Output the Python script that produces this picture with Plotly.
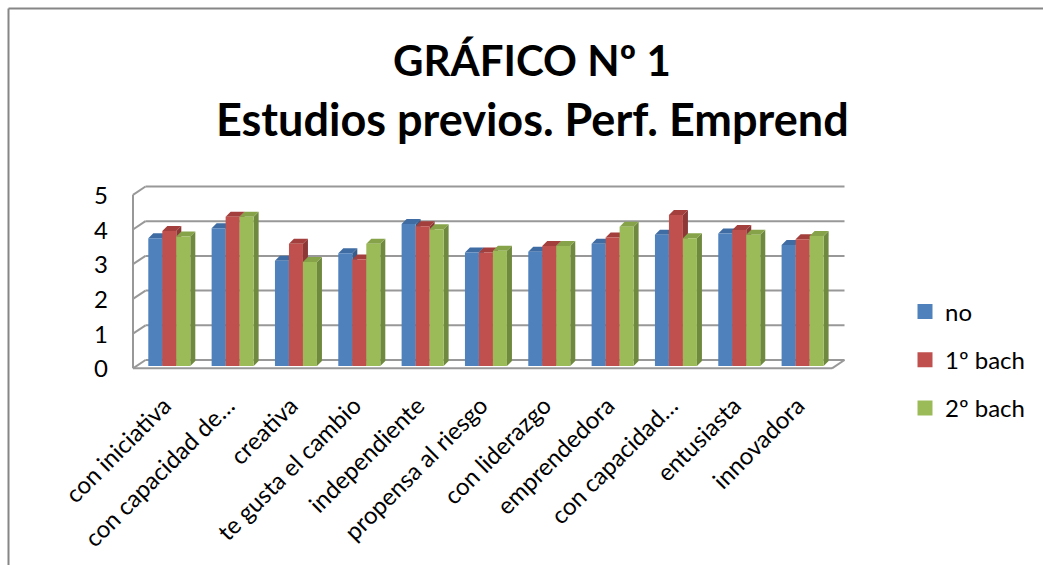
import plotly.graph_objects as go

categories = ["con iniciativa", "con capacidad de…", "creativa", "te gusta el cambio",
              "independiente", "propensa al riesgo", "con liderazgo", "emprendedora",
              "con capacidad…", "entusiasta", "innovadora"]
no = [3.68, 3.97, 3.03, 3.25, 4.09, 3.27, 3.29, 3.52, 3.78, 3.82, 3.49]
bach1 = [3.89, 4.30, 3.52, 3.07, 4.03, 3.27, 3.46, 3.70, 4.35, 3.92, 3.65]
bach2 = [3.73, 4.30, 3.00, 3.52, 3.94, 3.32, 3.46, 4.01, 3.68, 3.78, 3.75]
series_names = ["no", "1º bach", "2º bach"]
series_values = [no, bach1, bach2]
front_colors = ["#4F81BD", "#C0504D", "#9BBB59"]
side_colors = ["#385D8A", "#8C3836", "#6F8A3E"]
top_colors = ["#3F6CA3", "#A33F3C", "#86A34A"]
y_ticks = [0, 1, 2, 3, 4, 5]

FONT = "Lato"
W, H = 1043, 565
L, R, T, B = 118, 860, 175, 375
STEP_X, STEP_Y = 63.33, 34.7
X0_PX, Y0_PX = 169.3, 366.0
xrange_ = [(L - X0_PX) / STEP_X, (R - X0_PX) / STEP_X]
yrange_ = [(Y0_PX - B) / STEP_Y, (Y0_PX - T) / STEP_Y]
bw = 14.0 / STEP_X
dx_bar, dy_bar = 5.0 / STEP_X, 5.0 / STEP_Y
wall_dx, wall_dy = 12.5 / STEP_X, 8.3 / STEP_Y
front_x0 = (133 - X0_PX) / STEP_X
front_x1 = (832 - X0_PX) / STEP_X
front_y0 = (Y0_PX - 368.3) / STEP_Y   # value at the front plane's zero line
GRID = "#989898"

fig = go.Figure()

# legend entries with square swatches
for s, name in enumerate(series_names):
    fig.add_trace(go.Scatter(
        x=[None], y=[None], name=name, mode="markers",
        marker=dict(symbol="square", size=15, color=front_colors[s], line=dict(width=0)),
        legendgroup=name, hoverinfo="skip"))

# depth faces, left to right, in the base subplot
for s, vals in enumerate(series_values):
    for i, v in enumerate(vals):
        x0 = i - 1.5 * bw + s * bw
        x1 = x0 + bw
        fig.add_trace(go.Scatter(
            x=[x1, x1 + dx_bar, x1 + dx_bar, x1, x1], y=[0, dy_bar, v + dy_bar, v, 0],
            mode="lines", fill="toself", fillcolor=side_colors[s], line=dict(width=0),
            showlegend=False, hoverinfo="skip"))
        fig.add_trace(go.Scatter(
            x=[x0, x1, x1 + dx_bar, x0 + dx_bar, x0], y=[v, v, v + dy_bar, v + dy_bar, v],
            mode="lines", fill="toself", fillcolor=top_colors[s], line=dict(width=0),
            showlegend=False, hoverinfo="skip"))

# front faces on an overlaid subplot so they cover the depth faces
for s, vals in enumerate(series_values):
    fig.add_trace(go.Bar(
        x=list(range(len(categories))), y=vals, name=series_names[s], showlegend=False,
        marker=dict(color=front_colors[s], line=dict(width=0)),
        xaxis="x2", yaxis="y2", hoverinfo="skip"))

shapes = []
def seg(x0, y0, x1, y1):
    shapes.append(dict(type="line", xref="x", yref="y", x0=x0, y0=y0, x1=x1, y1=y1,
                       layer="below", line=dict(color=GRID, width=2)))

for t in y_ticks:
    fy = front_y0 + t
    seg(front_x0 + wall_dx, fy + wall_dy, front_x1 + wall_dx, fy + wall_dy)   # back wall
    seg(front_x0, fy, front_x0 + wall_dx, fy + wall_dy)                       # side wall
seg(front_x0, front_y0, front_x0, front_y0 + 5)
seg(front_x0, front_y0, front_x1, front_y0)
seg(front_x1, front_y0, front_x1 + wall_dx, front_y0 + wall_dy)

# chart border
for (x0, y0, x1, y1) in [(8.5, 8.5, W, 8.5), (8.5, 8.5, 8.5, H)]:
    shapes.append(dict(type="line", xref="paper", yref="paper",
                       x0=(x0 - L) / (R - L), x1=(x1 - L) / (R - L),
                       y0=(B - y0) / (B - T), y1=(B - y1) / (B - T),
                       layer="below", line=dict(color="#868686", width=2)))

def title_ann(text, cy, size):
    return dict(text=text, xref="paper", yref="paper", showarrow=False,
                x=(532 - L) / (R - L), y=(B - cy) / (B - T), xanchor="center", yanchor="middle",
                font=dict(family=FONT, size=size, color="#000000", weight="bold"))

fig.update_layout(
    width=W, height=H, autosize=False, showlegend=True,
    margin=dict(l=L, r=W - R, t=T, b=H - B, pad=0),
    paper_bgcolor="#FFFFFF", plot_bgcolor="rgba(0,0,0,0)",
    barmode="group", bargap=1 - 3 * bw, bargroupgap=0,
    shapes=shapes,
    annotations=[title_ann("GRÁFICO Nº 1", 60, 42), title_ann("Estudios previos. Perf. Emprend", 119, 45)],
    font=dict(family=FONT, color="#000000"),
    xaxis=dict(range=xrange_, tickmode="array", tickvals=list(range(len(categories))),
               ticktext=categories, tickangle=-45, showgrid=False, zeroline=False, showline=False,
               ticks="", tickfont=dict(family=FONT, size=24), ticklabelstandoff=11, ticklabelshift=-5),
    yaxis=dict(range=yrange_, tickmode="array", tickvals=y_ticks, showgrid=False, zeroline=False,
               showline=False, ticks="", tickfont=dict(family=FONT, size=24),
               ticklabelstandoff=9, ticklabelshift=3),
    xaxis2=dict(range=xrange_, overlaying="x", visible=False),
    yaxis2=dict(range=yrange_, overlaying="y", visible=False),
    legend=dict(x=905 / W, xref="container", y=1 - 360 / H, yref="container", xanchor="left", yanchor="middle",
                font=dict(family=FONT, size=24), tracegroupgap=14, traceorder="grouped",
                bgcolor="rgba(0,0,0,0)", borderwidth=0),
)

fig.write_html("out.html", config={"displayModeBar": False},
               post_script="document.body.style.margin='0';document.body.style.overflow='hidden';")
